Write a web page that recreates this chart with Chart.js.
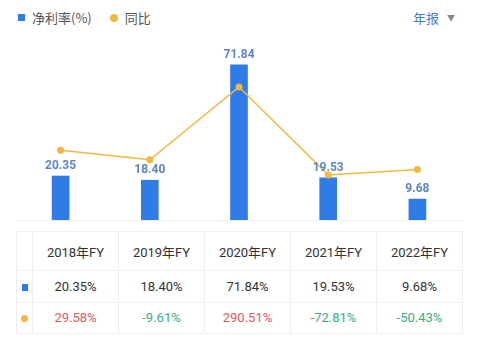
<!DOCTYPE html>
<html>
<head>
<meta charset="utf-8">
<script src="https://cdn.jsdelivr.net/npm/chart.js@4"></script>
<style>
  html, body { margin: 0; padding: 0; background: #fff; }
  body { width: 484px; height: 345px; position: relative; overflow: hidden;
         font-family: Roboto, "Noto Sans CJK SC", sans-serif; }
  #chartBox { position: absolute; left: 0; top: 0; width: 484px; height: 228px; }
  .legend { position: absolute; left: 18px; top: 8px; font-size: 13px; color: #555;
            display: flex; align-items: center; font-family: "Noto Sans CJK SC", sans-serif; }
  .legend .sq { width: 7px; height: 7px; background: #2f7be8; margin-right: 7px; }
  .legend .dot { width: 8px; height: 8px; border-radius: 50%; background: #f5b73b; margin: 0 7px 0 18px; }
  .period { position: absolute; left: 413px; top: 8px; font-size: 13px; color: #4a7cc9;
            font-family: "Noto Sans CJK SC", sans-serif; }
  .period .arrow { color: #888; font-size: 8px; margin-left: 8px; vertical-align: 2px; }
  table { position: absolute; left: 16px; top: 231px; width: 447px; height: 103px;
          border-collapse: collapse; table-layout: fixed; font-size: 13px; color: #333; }
  td { border: 1px solid #eceef1; text-align: center; padding: 0; }
  td.mark { width: 15px; }
  .msq { display: inline-block; width: 6px; height: 7px; background: #2f7be8; }
  .mdot { display: inline-block; width: 7px; height: 7px; border-radius: 50%; background: #f5b73b; }
  .up { color: #dc5b5e; }
  .down { color: #3bae7c; }
</style>
</head>
<body>
<div class="legend"><span class="sq"></span><span id="lg1"></span><span class="dot"></span><span id="lg2"></span></div>
<div class="period">年报<span class="arrow">▼</span></div>
<div id="chartBox"><canvas id="chart"></canvas></div>
<table id="tbl"></table>
<script>
  // ======================================
  // Data
  // ======================================
  const years = ['2018年FY', '2019年FY', '2020年FY', '2021年FY', '2022年FY'];
  const netMargin = [20.35, 18.40, 71.84, 19.53, 9.68];
  const yoy = [29.58, -9.61, 290.51, -72.81, -50.43];
  const seriesNames = ['净利率(%)', '同比'];

  const BAR_COLOR = '#2f7be8';
  const LINE_COLOR = '#f5b73b';

  document.getElementById('lg1').textContent = seriesNames[0];
  document.getElementById('lg2').textContent = seriesNames[1];

  // ======================================
  // Plugins: baseline + bar value labels
  // ======================================
  const baseline = {
    id: 'baseline',
    beforeDatasetsDraw(chart) {
      const { ctx, chartArea } = chart;
      ctx.save();
      ctx.strokeStyle = '#eef0f3';
      ctx.lineWidth = 1;
      ctx.beginPath();
      ctx.moveTo(chartArea.left, chartArea.bottom + 0.5);
      ctx.lineTo(chartArea.right + 2, chartArea.bottom + 0.5);
      ctx.stroke();
      ctx.restore();
    }
  };

  const barLabels = {
    id: 'barLabels',
    afterDatasetsDraw(chart) {
      const { ctx } = chart;
      const meta = chart.getDatasetMeta(1); // bar dataset
      ctx.save();
      ctx.font = 'bold 12px Roboto, sans-serif';
      ctx.fillStyle = '#5d84c6';
      ctx.textAlign = 'center';
      ctx.textBaseline = 'bottom';
      meta.data.forEach((bar, i) => {
        ctx.fillText(netMargin[i].toFixed(2), bar.x, bar.y - 4);
      });
      ctx.restore();
    }
  };

  // ======================================
  // Chart
  // ======================================
  new Chart(document.getElementById('chart'), {
    data: {
      labels: years,
      datasets: [
        {
          type: 'line',
          label: seriesNames[1],
          data: yoy,
          yAxisID: 'y1',
          borderColor: LINE_COLOR,
          backgroundColor: LINE_COLOR,
          borderWidth: 1.5,
          pointRadius: 3.5,
          pointBorderWidth: 0,
          tension: 0,
          order: 0
        },
        {
          type: 'bar',
          label: seriesNames[0],
          data: netMargin,
          yAxisID: 'y',
          backgroundColor: BAR_COLOR,
          barThickness: 17,
          order: 1
        }
      ]
    },
    options: {
      responsive: true,
      maintainAspectRatio: false,
      animation: false,
      layout: { padding: { left: 16, right: 22, top: 40, bottom: 8 } },
      plugins: { legend: { display: false }, tooltip: { enabled: false } },
      scales: {
        x: { display: false },
        y: { display: false, min: 0, max: 83.3 },
        y1: { display: false, position: 'right', min: -258.5, max: 484.7 }
      }
    },
    plugins: [baseline, barLabels]
  });

  // ======================================
  // Data table
  // ======================================
  const tbl = document.getElementById('tbl');
  const pct = v => v.toFixed(2) + '%';
  let html = '<tr><td class="mark"></td>' + years.map(y => `<td>${y}</td>`).join('') + '</tr>';
  html += '<tr><td class="mark"><span class="msq"></span></td>' +
    netMargin.map(v => `<td>${pct(v)}</td>`).join('') + '</tr>';
  html += '<tr><td class="mark"><span class="mdot"></span></td>' +
    yoy.map(v => `<td class="${v >= 0 ? 'up' : 'down'}">${pct(v)}</td>`).join('') + '</tr>';
  tbl.innerHTML = html;
</script>
</body>
</html>
